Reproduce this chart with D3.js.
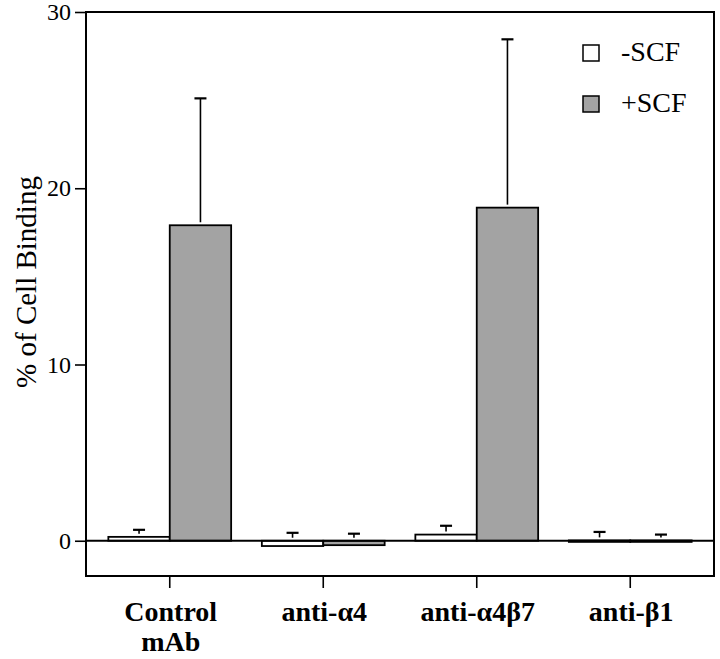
<!DOCTYPE html>
<html><head><meta charset="utf-8">
<script src="https://cdn.jsdelivr.net/npm/d3@7"></script>
<style>body{margin:0;background:#fff}svg{display:block}
text{font-family:"Liberation Serif",Tinos,"Times New Roman",Times,"Nimbus Roman","DejaVu Serif",serif}</style>
</head><body>
<svg id="c" width="720" height="659"></svg>
<script>
const categories = [["Control","mAb"],["anti-\u03b14"],["anti-\u03b14\u03b27"],["anti-\u03b21"]];
const series = ["-SCF","+SCF"];
const minusSCF = [0.22, -0.3, 0.35, 0.02];
const minusSCFerr = [0.4, 0.45, 0.5, 0.48];
const plusSCF = [17.9, -0.25, 18.9, 0.02];
const plusSCFerr = [7.2, 0.4, 9.55, 0.33];
const yTicks = [0, 10, 20, 30];
const colors = ["#ffffff", "#a3a3a3"];

const svg = d3.select("#c");
const L = 86, R = 714, T = 12, B = 576;
const y = d3.scaleLinear().domain([-2, 30]).range([B, T]);
const x = d3.scaleBand().domain(d3.range(categories.length)).range([L + 7, R - 7]).paddingInner(0.2).paddingOuter(0.1);
const xs = d3.scaleBand().domain(series).range([0, x.bandwidth()]);

svg.append("rect").attr("x", L).attr("y", T).attr("width", R - L).attr("height", B - T)
  .attr("fill", "none").attr("stroke", "#000").attr("stroke-width", 2);

const yAxis = svg.append("g").attr("transform", `translate(${L},0)`)
  .call(d3.axisLeft(y).tickValues(yTicks).tickSize(11).tickPadding(4).tickFormat(d3.format("d")));
yAxis.select(".domain").remove();
yAxis.attr("font-family", null);
yAxis.selectAll("line").attr("stroke-width", 1.6);
yAxis.selectAll("text").attr("font-size", 24).attr("fill", "#000");

const xAxis = svg.append("g").attr("transform", `translate(0,${B})`)
  .call(d3.axisBottom(x).tickSize(12).tickFormat(""));
xAxis.select(".domain").remove();
xAxis.selectAll("line").attr("stroke-width", 1.6);

categories.forEach((lines, i) => {
  const t = svg.append("text").attr("text-anchor", "middle")
    .attr("font-weight", "bold").attr("font-size", 28).attr("fill", "#000");
  lines.forEach((ln, j) => {
    t.append("tspan").attr("x", x(i) + x.bandwidth() / 2 + 1).attr("y", 621 + j * 30).text(ln);
  });
});

svg.append("text").attr("transform", `translate(36,282) rotate(-90)`)
  .attr("text-anchor", "middle").attr("font-size", 29).attr("fill", "#000")
  .text("% of Cell Binding");

const vals = [minusSCF, plusSCF], errs = [minusSCFerr, plusSCFerr];
series.forEach((s, si) => {
  const g = svg.append("g");
  vals[si].forEach((v, i) => {
    const bx = x(i) + xs(s);
    const w = xs.bandwidth();
    g.append("rect").attr("x", bx).attr("y", Math.min(y(v), y(0))).attr("width", w)
      .attr("height", Math.max(Math.abs(y(v) - y(0)), 1.5))
      .attr("fill", colors[si]).attr("stroke", "#000").attr("stroke-width", 1.8);
    const top = Math.max(v, 0);
    const cx = bx + w / 2;
    const ye = y(top + errs[si][i]);
    g.append("line").attr("x1", cx).attr("x2", cx).attr("y1", Math.max(y(top) - 3, ye)).attr("y2", ye)
      .attr("stroke", "#000").attr("stroke-width", 1.6);
    g.append("line").attr("x1", cx - 6).attr("x2", cx + 6).attr("y1", ye).attr("y2", ye)
      .attr("stroke", "#000").attr("stroke-width", 2.2);
  });
});

svg.append("line").attr("x1", L).attr("x2", R).attr("y1", y(0)).attr("y2", y(0))
  .attr("stroke", "#000").attr("stroke-width", 1.8);

series.forEach((s, i) => {
  const ly = 45 + i * 51;
  svg.append("rect").attr("x", 583).attr("y", ly).attr("width", 16).attr("height", 16)
    .attr("fill", colors[i]).attr("stroke", "#000").attr("stroke-width", 1.5);
  svg.append("text").attr("x", 621).attr("y", ly + 16).attr("font-size", 28)
    .attr("fill", "#000").text(s);
});
</script>
</body></html>
